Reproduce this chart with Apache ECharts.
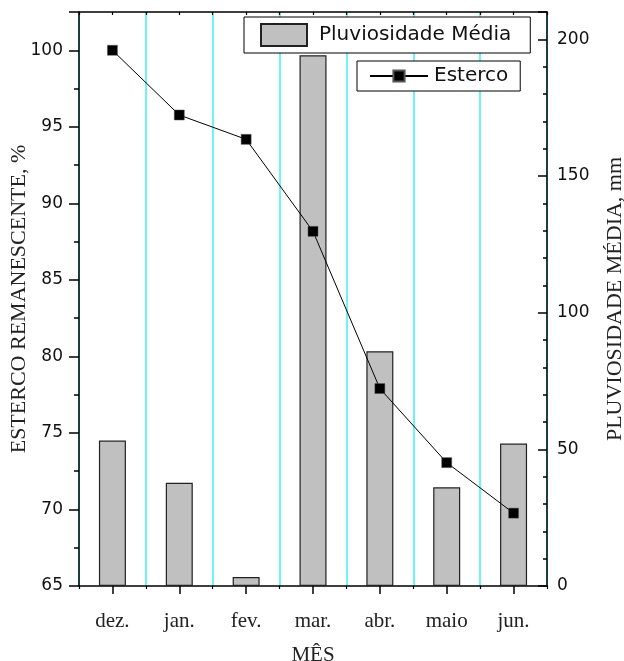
<!DOCTYPE html>
<html>
<head>
<meta charset="utf-8">
<script src="https://cdn.jsdelivr.net/npm/echarts@6/dist/echarts.min.js"></script>
<style>
html,body{margin:0;padding:0;background:#fff;}
#chart{width:624px;height:661px;}
</style>
</head>
<body>
<div id="chart"></div>
<script>
const months = ['dez.', 'jan.', 'fev.', 'mar.', 'abr.', 'maio', 'jun.'];
const rainfall = [53.2, 37.8, 3.3, 194.2, 85.9, 36.1, 52.1];
const manure = [100, 95.77, 94.18, 88.17, 77.9, 73.06, 69.76];
const leftTicks = { min: 65, max: 102.5, interval: 5 };
const rightTicks = { min: 0, max: 210, interval: 50 };

const chart = echarts.init(document.getElementById('chart'), null, { renderer: 'canvas' });
const serif = 'Liberation Serif';
const sans = 'DejaVu Sans';
const black = '#000';

chart.setOption({
  animation: false,
  backgroundColor: '#fff',
  grid: { left: 79, right: 77, top: 12, bottom: 75, containLabel: false, outerBoundsMode: 'none' },
  legend: [
    {
      data: [{ name: 'Pluviosidade Média', icon: 'rect' }],
      left: 244, top: 17,
      orient: 'horizontal',
      padding: [6, 19, 6, 16],
      itemWidth: 46, itemHeight: 22,
      borderColor: '#000', borderWidth: 1,
      backgroundColor: '#fff',
      textStyle: { fontFamily: sans, fontSize: 20, color: '#111', padding: [0, 0, 0, 7] }
    },
    {
      data: ['Esterco'],
      left: 357, top: 61,
      padding: [5, 12, 5, 12],
      itemWidth: 58, itemHeight: 14,
      borderColor: '#000', borderWidth: 1,
      backgroundColor: '#fff',
      textStyle: { fontFamily: sans, fontSize: 20, color: '#111', padding: [0, 0, 0, 1] }
    }
  ],
  xAxis: [
    {
      type: 'category', data: months, position: 'bottom',
      name: 'MÊS', nameLocation: 'middle', nameGap: 59, nameMoveOverlap: false,
      nameTextStyle: { fontFamily: serif, fontSize: 21, color: '#222' },
      axisLine: { show: true, lineStyle: { color: black, width: 1.5 } },
      axisTick: { show: true, alignWithLabel: true, length: 8, inside: false, lineStyle: { color: black, width: 1.5 } },
      axisLabel: { fontFamily: serif, fontSize: 21, color: '#222', margin: 25 },
      splitLine: { show: false }
    },
    {
      type: 'category', data: months, position: 'bottom',
      axisLine: { show: false },
      axisTick: { show: true, length: 3, inside: false, lineStyle: { color: black, width: 1.2 } },
      axisLabel: { show: false },
      splitLine: { show: true, lineStyle: { color: '#3cf2f2', width: 1.5 } }
    },
    {
      type: 'category', data: months, position: 'top',
      axisLine: { show: true, lineStyle: { color: black, width: 1.5 } },
      axisTick: { show: true, length: 3, inside: true, lineStyle: { color: black, width: 1.2 } },
      axisLabel: { show: false },
      splitLine: { show: false }
    },
    {
      type: 'category', data: months, position: 'top',
      axisLine: { show: false },
      axisTick: { show: true, alignWithLabel: true, length: 3, inside: true, lineStyle: { color: black, width: 1.2 } },
      axisLabel: { show: false },
      splitLine: { show: false }
    }
  ],
  yAxis: [
    {
      type: 'value', position: 'left',
      min: leftTicks.min, max: leftTicks.max, interval: leftTicks.interval,
      name: 'ESTERCO REMANESCENTE, %', nameLocation: 'middle', nameGap: 49, nameMoveOverlap: false,
      nameTextStyle: { fontFamily: serif, fontSize: 22, color: '#222' },
      axisLine: { show: true, lineStyle: { color: black, width: 1.5 } },
      axisTick: { show: true, inside: false, length: 10, lineStyle: { color: black, width: 1.5 } },
      minorTick: { show: true, splitNumber: 2, length: 5, lineStyle: { color: black, width: 1.5 } },
      axisLabel: { fontFamily: sans, fontSize: 17, color: '#111', margin: 16, showMaxLabel: false },
      splitLine: { show: false }
    },
    {
      type: 'value', position: 'right',
      min: rightTicks.min, max: rightTicks.max, interval: rightTicks.interval,
      name: 'PLUVIOSIDADE MÉDIA, mm', nameLocation: 'middle', nameGap: 57, nameMoveOverlap: false,
      nameTextStyle: { fontFamily: serif, fontSize: 22, color: '#222' },
      axisLine: { show: true, lineStyle: { color: black, width: 1.5 } },
      axisTick: { show: true, inside: true, length: 9, lineStyle: { color: black, width: 1.5 } },
      minorTick: { show: true, splitNumber: 5, length: 4, lineStyle: { color: black, width: 1.5 } },
      axisLabel: { fontFamily: sans, fontSize: 17, color: '#111', margin: 10, showMaxLabel: false },
      splitLine: { show: false }
    }
  ],
  series: [
    {
      name: 'Pluviosidade Média', type: 'bar',
      xAxisIndex: 0, yAxisIndex: 1,
      data: rainfall, barWidth: 27,
      itemStyle: { color: '#c0c0c0', borderColor: '#222', borderWidth: 1.2 },
      z: 2
    },
    {
      name: 'Esterco', type: 'line',
      xAxisIndex: 0, yAxisIndex: 0,
      data: manure,
      symbol: 'rect', symbolSize: 10,
      lineStyle: { color: '#000', width: 1 },
      itemStyle: { color: '#000', borderColor: '#555', borderWidth: 0.5 },
      z: 3
    }
  ]
});
</script>
</body>
</html>
